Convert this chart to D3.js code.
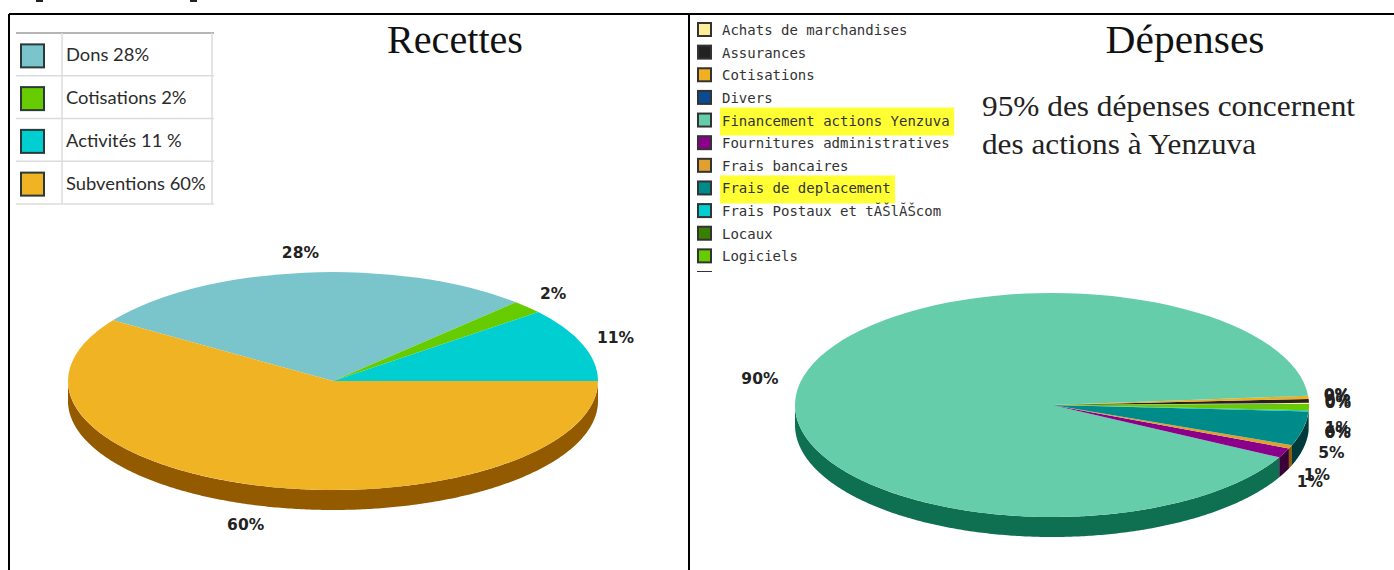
<!DOCTYPE html>
<html>
<head>
<meta charset="utf-8">
<script src="https://cdn.jsdelivr.net/npm/d3@7"></script>
<style>
body { margin: 0; background: #fff; overflow: hidden; }
</style>
</head>
<body>
<div id="canvas"></div>
<script>
// recettes
const recetteCats = ['Dons', 'Cotisations', 'Activités', 'Subventions'],
    recetteLegend = ['Dons 28%', 'Cotisations 2%', 'Activités 11 %', 'Subventions 60%'],
    recetteValues = [28, 2, 11, 60],
    recetteLabels = ['28%', '2%', '11%', '60%'],
    recetteColors = ['#7ac4cc', '#66cc00', '#00ced1', '#f0b323'],
    recetteSides = ['#3f7f86', '#3f8000', '#008b8b', '#945a00'];

// depenses
const depenseCats = ['Achats de marchandises', 'Assurances', 'Cotisations', 'Divers',
        'Financement actions Yenzuva', 'Fournitures administratives', 'Frais bancaires',
        'Frais de deplacement', 'Frais Postaux et tĂŠlĂŠcom', 'Locaux', 'Logiciels', ''],
    depenseValues = [0.15, 0.55, 0.45, 0.02, 90.9, 1.4, 0.5, 4.9, 0.15, 0.02, 0.9, 0.02],
    depenseLabels = ['0%', '0%', '9%', '0%', '90%', '1%', '1%', '5%', '0%', '6%', '1%', ''],
    depenseColors = ['#ffee99', '#222222', '#f0b020', '#0a4a90', '#66cdaa', '#8b008b',
        '#e0a030', '#008b8b', '#00ced1', '#3a8000', '#66cc00', '#333333'],
    depenseSides = ['#8a8050', '#000000', '#8a5a00', '#002a50', '#0e7050', '#3a0038',
        '#8f5a00', '#003a3a', '#006060', '#1a4000', '#3a7000', '#111111'],
    highlighted = ['Financement actions Yenzuva', 'Frais de deplacement'];

const w = 1394,
    h = 570,
    depth = 20,
    svg = d3.select('#canvas').append('svg')
        .attr('width', w)
        .attr('height', h)
        .style('display', 'block');

function drawPie(o) {
    const pie = d3.pie().sort(null)
        .startAngle(o.start)
        .endAngle(o.start + o.dir * 2 * Math.PI);
    const slices = pie(o.values);
    const arc = d3.arc().innerRadius(0).outerRadius(o.rx);
    const g = svg.append('g').attr('transform', 'translate(' + o.cx + ',' + o.cy + ')');
    const px = a => o.rx * Math.sin(a),
        py = a => -o.ry * Math.cos(a);
    const line = d3.line();

    // side wall, only the part of each slice on the lower half
    slices.forEach((s, i) => {
        const lo = Math.min(s.startAngle, s.endAngle),
            hi = Math.max(s.startAngle, s.endAngle);
        for (let k = -2; k < 2; k++) {
            const a0 = Math.max(lo, Math.PI / 2 + 2 * k * Math.PI),
                a1 = Math.min(hi, 3 * Math.PI / 2 + 2 * k * Math.PI);
            if (a1 <= a0) continue;
            const steps = d3.range(a0, a1, 0.01).concat([a1]);
            const top = steps.map(a => [px(a), py(a)]),
                bottom = steps.slice().reverse().map(a => [px(a), py(a) + depth]);
            g.append('path')
                .attr('d', line(top.concat(bottom)) + 'Z')
                .attr('fill', o.sides[i]);
        }
    });

    // top face
    g.append('g').attr('transform', 'scale(1,' + (o.ry / o.rx) + ')')
        .selectAll('path')
        .data(slices)
        .join('path')
        .attr('d', arc)
        .attr('fill', (d, i) => o.colors[i]);

    // value labels around the ellipse, pushed down by the wall on the lower half
    g.selectAll('text')
        .data(slices)
        .join('text')
        .attr('x', d => (o.rx + 35) / o.rx * px((d.startAngle + d.endAngle) / 2) + o.labelDx)
        .attr('y', d => {
            const a = (d.startAngle + d.endAngle) / 2;
            return (o.ry + 20) / o.ry * py(a) + (Math.cos(a) < 0 ? depth : 0);
        })
        .attr('dy', '0.35em')
        .attr('text-anchor', 'middle')
        .attr('font-family', 'DejaVu Sans')
        .attr('font-weight', 700)
        .attr('font-size', '15.5px')
        .attr('fill', '#222')
        .text((d, i) => o.labels[i]);
}

// page heading is cut by the top of the picture, only two tails remain
[36, 190].forEach(x => {
    svg.append('rect').attr('x', x).attr('y', 0).attr('width', 7).attr('height', 2).attr('fill', '#222');
});

drawPie({
    cx: 333, cy: 381, rx: 265, ry: 109,
    start: Math.PI / 2 - 2 * Math.PI * 41 / 101, dir: 1,
    values: recetteValues, labels: recetteLabels,
    colors: recetteColors, sides: recetteSides,
    labelDx: 0
});

drawPie({
    cx: 1052, cy: 405, rx: 257, ry: 112,
    start: Math.PI / 2 - 0.01, dir: -1,
    values: depenseValues, labels: depenseLabels,
    colors: depenseColors, sides: depenseSides,
    labelDx: -6
});

// frame of the table
[[9, 14, 1394, 14], [9, 14, 9, 570], [689, 14, 689, 570]].forEach(l => {
    svg.append('line')
        .attr('x1', l[0]).attr('y1', l[1])
        .attr('x2', l[2]).attr('y2', l[3])
        .attr('stroke', '#000')
        .attr('stroke-width', 2);
});

// left legend, a small table
const rowY = d3.scalePoint().domain(d3.range(5)).range([33, 204]);
d3.range(5).forEach(i => {
    svg.append('line')
        .attr('x1', 16).attr('x2', 214)
        .attr('y1', rowY(i)).attr('y2', rowY(i))
        .attr('stroke', i === 0 ? '#b5b5b5' : '#dcdcdc')
        .attr('stroke-width', i === 0 ? 2 : 1.5);
});
[62, 212].forEach(x => {
    svg.append('line')
        .attr('x1', x).attr('x2', x)
        .attr('y1', 33).attr('y2', 204)
        .attr('stroke', '#dcdcdc')
        .attr('stroke-width', 1.5);
});
recetteCats.forEach((c, i) => {
    const mid = (rowY(i) + rowY(i + 1)) / 2 + 1.5;
    svg.append('rect')
        .attr('x', 21).attr('y', mid - 11.5)
        .attr('width', 23).attr('height', 23)
        .attr('fill', recetteColors[i])
        .attr('stroke', '#2a3a3a')
        .attr('stroke-width', 2);
    svg.append('text')
        .attr('transform', 'translate(66,' + (mid + 5.5) + ')scale(1.08,1)')
        .attr('font-family', 'Lato')
        .attr('font-size', '17px')
        .attr('fill', '#2b2b2b')
        .text(recetteLegend[i]);
});

// right legend, cut under the last row
svg.append('clipPath').attr('id', 'legend-clip')
    .append('rect').attr('x', 690).attr('y', 15).attr('width', 300).attr('height', 257);
const legend2 = svg.append('g').attr('clip-path', 'url(#legend-clip)');
const legendY = d3.scaleLinear().domain([0, 11]).range([30, 279]);
depenseCats.forEach((c, i) => {
    const y = legendY(i);
    if (highlighted.includes(c)) {
        legend2.append('rect')
            .attr('x', 720).attr('y', y - 13)
            .attr('width', c.length * 8.45 + 6).attr('height', 28)
            .attr('fill', '#ffff33');
    }
    legend2.append('rect')
        .attr('x', 698).attr('y', y - 7)
        .attr('width', 13).attr('height', 13)
        .attr('fill', depenseColors[i])
        .attr('stroke', '#333')
        .attr('stroke-width', 2);
    legend2.append('text')
        .attr('x', 722).attr('y', y + 5)
        .attr('font-family', 'DejaVu Sans Mono')
        .attr('font-size', '14px')
        .attr('fill', '#333')
        .text(c);
});

// titles
[['Recettes', 455, 53, 136], ['Dépenses', 1185, 53, 159]].forEach(t => {
    svg.append('text')
        .attr('x', t[1]).attr('y', t[2])
        .attr('text-anchor', 'middle')
        .attr('font-family', 'Liberation Serif')
        .attr('font-size', '39px')
        .attr('textLength', t[3])
        .attr('lengthAdjust', 'spacingAndGlyphs')
        .attr('fill', '#111')
        .text(t[0]);
});
[['95% des dépenses concernent', 116, 373], ['des actions à Yenzuva', 154, 274]].forEach(t => {
    svg.append('text')
        .attr('x', 982).attr('y', t[1])
        .attr('font-family', 'Liberation Serif')
        .attr('font-size', '29px')
        .attr('textLength', t[2])
        .attr('lengthAdjust', 'spacingAndGlyphs')
        .attr('fill', '#222')
        .text(t[0]);
});
</script>
</body>
</html>
